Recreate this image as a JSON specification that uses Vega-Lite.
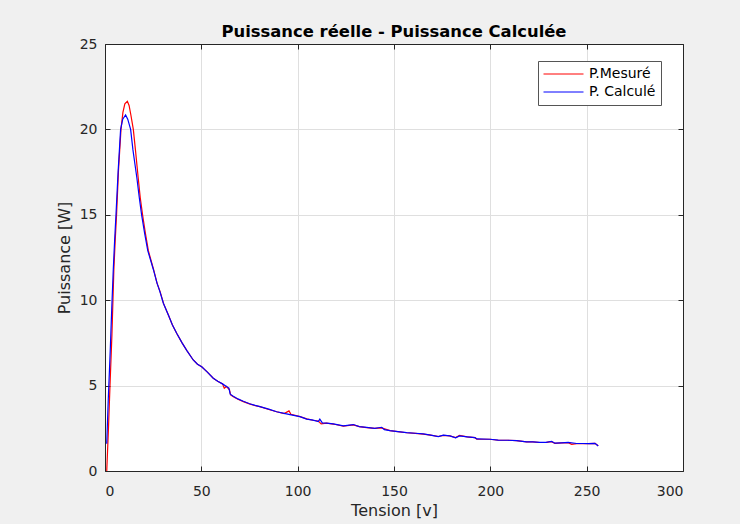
{
  "$schema": "https://vega.github.io/schema/vega-lite/v6.json",
  "width": 578,
  "height": 427,
  "autosize": {"type": "none"},
  "padding": {"left": 105, "top": 44, "right": 57, "bottom": 53},
  "background": "#f0f0f0",
  "view": {"fill": "white", "stroke": null},
  "title": {"text": "Puissance réelle - Puissance Calculée", "font": "DejaVu Sans", "fontSize": 16.4, "fontWeight": "bold", "color": "#000000", "offset": -3, "anchor": "middle"},
  "config": {
    "axis": {"labelFont": "DejaVu Sans", "titleFont": "DejaVu Sans", "labelFontSize": 14, "titleFontSize": 16, "labelColor": "#262626", "titleColor": "#262626", "titleFontWeight": "normal", "domainColor": "#262626", "tickColor": "#262626", "gridColor": "#dfdfdf", "tickSize": -5},
    "legend": {"orient": "none", "legendX": 433, "legendY": 17, "fillColor": "white", "strokeColor": "#555555", "padding": 5, "symbolType": "stroke", "symbolSize": 1600, "symbolStrokeWidth": 1, "clipHeight": 16, "labelFont": "DejaVu Sans", "labelFontSize": 14, "labelColor": "#000000", "labelOffset": 5, "rowPadding": 2}
  },
  "datasets": {
    "pts": [
      {"serie": "P.Mesuré", "tension": 0.9, "puissance": 0},
      {"serie": "P.Mesuré", "tension": 1.8, "puissance": 2.5},
      {"serie": "P.Mesuré", "tension": 2.6, "puissance": 5},
      {"serie": "P.Mesuré", "tension": 3.6, "puissance": 8},
      {"serie": "P.Mesuré", "tension": 4.6, "puissance": 11.8},
      {"serie": "P.Mesuré", "tension": 5.3, "puissance": 13.5},
      {"serie": "P.Mesuré", "tension": 6.0, "puissance": 15},
      {"serie": "P.Mesuré", "tension": 7.0, "puissance": 17.6},
      {"serie": "P.Mesuré", "tension": 8.3, "puissance": 20},
      {"serie": "P.Mesuré", "tension": 9.3, "puissance": 21},
      {"serie": "P.Mesuré", "tension": 10.3, "puissance": 21.5},
      {"serie": "P.Mesuré", "tension": 11.6, "puissance": 21.65},
      {"serie": "P.Mesuré", "tension": 12.5, "puissance": 21.4},
      {"serie": "P.Mesuré", "tension": 13.5, "puissance": 20.8},
      {"serie": "P.Mesuré", "tension": 14.7, "puissance": 20},
      {"serie": "P.Mesuré", "tension": 15.8, "puissance": 18.8},
      {"serie": "P.Mesuré", "tension": 17.2, "puissance": 17.2},
      {"serie": "P.Mesuré", "tension": 18.3, "puissance": 16},
      {"serie": "P.Mesuré", "tension": 19.5, "puissance": 15},
      {"serie": "P.Mesuré", "tension": 21, "puissance": 13.9},
      {"serie": "P.Mesuré", "tension": 22.5, "puissance": 12.9},
      {"serie": "P.Mesuré", "tension": 25.2, "puissance": 11.8},
      {"serie": "P.Mesuré", "tension": 27, "puissance": 11},
      {"serie": "P.Mesuré", "tension": 28.6, "puissance": 10.5},
      {"serie": "P.Mesuré", "tension": 30.4, "puissance": 9.8},
      {"serie": "P.Mesuré", "tension": 33, "puissance": 9.1},
      {"serie": "P.Mesuré", "tension": 35, "puissance": 8.55},
      {"serie": "P.Mesuré", "tension": 37.2, "puissance": 8.06},
      {"serie": "P.Mesuré", "tension": 40, "puissance": 7.5},
      {"serie": "P.Mesuré", "tension": 42.5, "puissance": 7.05},
      {"serie": "P.Mesuré", "tension": 45.8, "puissance": 6.5},
      {"serie": "P.Mesuré", "tension": 48, "puissance": 6.25},
      {"serie": "P.Mesuré", "tension": 50.2, "puissance": 6.1},
      {"serie": "P.Mesuré", "tension": 53, "puissance": 5.8},
      {"serie": "P.Mesuré", "tension": 56.2, "puissance": 5.43},
      {"serie": "P.Mesuré", "tension": 58.5, "puissance": 5.25},
      {"serie": "P.Mesuré", "tension": 61, "puissance": 5.1},
      {"serie": "P.Mesuré", "tension": 61.9, "puissance": 4.84},
      {"serie": "P.Mesuré", "tension": 63, "puissance": 4.95},
      {"serie": "P.Mesuré", "tension": 64.6, "puissance": 4.75},
      {"serie": "P.Mesuré", "tension": 65.2, "puissance": 4.45},
      {"serie": "P.Mesuré", "tension": 66.6, "puissance": 4.35},
      {"serie": "P.Mesuré", "tension": 69, "puissance": 4.2},
      {"serie": "P.Mesuré", "tension": 71.8, "puissance": 4.06},
      {"serie": "P.Mesuré", "tension": 75, "puissance": 3.93},
      {"serie": "P.Mesuré", "tension": 78, "puissance": 3.82},
      {"serie": "P.Mesuré", "tension": 80.4, "puissance": 3.77},
      {"serie": "P.Mesuré", "tension": 85, "puissance": 3.6},
      {"serie": "P.Mesuré", "tension": 89.1, "puissance": 3.47},
      {"serie": "P.Mesuré", "tension": 93, "puissance": 3.36},
      {"serie": "P.Mesuré", "tension": 95.5, "puissance": 3.52},
      {"serie": "P.Mesuré", "tension": 96.5, "puissance": 3.32},
      {"serie": "P.Mesuré", "tension": 101.2, "puissance": 3.18},
      {"serie": "P.Mesuré", "tension": 104.7, "puissance": 3.05},
      {"serie": "P.Mesuré", "tension": 108, "puissance": 2.97},
      {"serie": "P.Mesuré", "tension": 110.7, "puissance": 2.93},
      {"serie": "P.Mesuré", "tension": 112.2, "puissance": 2.76},
      {"serie": "P.Mesuré", "tension": 115, "puissance": 2.8},
      {"serie": "P.Mesuré", "tension": 118.5, "puissance": 2.75},
      {"serie": "P.Mesuré", "tension": 123.7, "puissance": 2.63},
      {"serie": "P.Mesuré", "tension": 128.9, "puissance": 2.7},
      {"serie": "P.Mesuré", "tension": 132, "puissance": 2.6},
      {"serie": "P.Mesuré", "tension": 135.8, "puissance": 2.54},
      {"serie": "P.Mesuré", "tension": 140, "puissance": 2.5},
      {"serie": "P.Mesuré", "tension": 143.6, "puissance": 2.52},
      {"serie": "P.Mesuré", "tension": 147.9, "puissance": 2.36},
      {"serie": "P.Mesuré", "tension": 152, "puissance": 2.3},
      {"serie": "P.Mesuré", "tension": 156.6, "puissance": 2.24},
      {"serie": "P.Mesuré", "tension": 161, "puissance": 2.2},
      {"serie": "P.Mesuré", "tension": 165.2, "puissance": 2.16},
      {"serie": "P.Mesuré", "tension": 169, "puissance": 2.1},
      {"serie": "P.Mesuré", "tension": 173, "puissance": 2.02},
      {"serie": "P.Mesuré", "tension": 175.6, "puissance": 2.09},
      {"serie": "P.Mesuré", "tension": 179, "puissance": 2.06},
      {"serie": "P.Mesuré", "tension": 182, "puissance": 1.96},
      {"serie": "P.Mesuré", "tension": 184, "puissance": 2.08},
      {"serie": "P.Mesuré", "tension": 188, "puissance": 2.0},
      {"serie": "P.Mesuré", "tension": 192, "puissance": 1.95},
      {"serie": "P.Mesuré", "tension": 193, "puissance": 1.87},
      {"serie": "P.Mesuré", "tension": 199.8, "puissance": 1.86},
      {"serie": "P.Mesuré", "tension": 204.1, "puissance": 1.8},
      {"serie": "P.Mesuré", "tension": 209, "puissance": 1.8},
      {"serie": "P.Mesuré", "tension": 213.6, "puissance": 1.78},
      {"serie": "P.Mesuré", "tension": 218.8, "puissance": 1.7},
      {"serie": "P.Mesuré", "tension": 222, "puissance": 1.7},
      {"serie": "P.Mesuré", "tension": 225.7, "puissance": 1.67},
      {"serie": "P.Mesuré", "tension": 229, "puissance": 1.68},
      {"serie": "P.Mesuré", "tension": 231.8, "puissance": 1.72},
      {"serie": "P.Mesuré", "tension": 233.5, "puissance": 1.62},
      {"serie": "P.Mesuré", "tension": 237, "puissance": 1.65},
      {"serie": "P.Mesuré", "tension": 240.4, "puissance": 1.66},
      {"serie": "P.Mesuré", "tension": 242.2, "puissance": 1.56},
      {"serie": "P.Mesuré", "tension": 244.8, "puissance": 1.6},
      {"serie": "P.Mesuré", "tension": 248, "puissance": 1.6},
      {"serie": "P.Mesuré", "tension": 251, "puissance": 1.6},
      {"serie": "P.Mesuré", "tension": 254.3, "puissance": 1.62},
      {"serie": "P.Mesuré", "tension": 256, "puissance": 1.48},
      {"serie": "P. Calculé", "tension": 0.9, "puissance": 1.6},
      {"serie": "P. Calculé", "tension": 1.7, "puissance": 4.2},
      {"serie": "P. Calculé", "tension": 2.7, "puissance": 7},
      {"serie": "P. Calculé", "tension": 3.5, "puissance": 9.5},
      {"serie": "P. Calculé", "tension": 4.3, "puissance": 11.8},
      {"serie": "P. Calculé", "tension": 5.0, "puissance": 13.5},
      {"serie": "P. Calculé", "tension": 5.7, "puissance": 15},
      {"serie": "P. Calculé", "tension": 6.8, "puissance": 17.5},
      {"serie": "P. Calculé", "tension": 8.1, "puissance": 20},
      {"serie": "P. Calculé", "tension": 9.2, "puissance": 20.6},
      {"serie": "P. Calculé", "tension": 10.7, "puissance": 20.85},
      {"serie": "P. Calculé", "tension": 11.8, "puissance": 20.6},
      {"serie": "P. Calculé", "tension": 13.3, "puissance": 20},
      {"serie": "P. Calculé", "tension": 14.5, "puissance": 18.8},
      {"serie": "P. Calculé", "tension": 16.5, "puissance": 17.2},
      {"serie": "P. Calculé", "tension": 17.8, "puissance": 16},
      {"serie": "P. Calculé", "tension": 19.0, "puissance": 15},
      {"serie": "P. Calculé", "tension": 20.6, "puissance": 13.9},
      {"serie": "P. Calculé", "tension": 22.2, "puissance": 12.9},
      {"serie": "P. Calculé", "tension": 25.1, "puissance": 11.8},
      {"serie": "P. Calculé", "tension": 27, "puissance": 11},
      {"serie": "P. Calculé", "tension": 28.5, "puissance": 10.5},
      {"serie": "P. Calculé", "tension": 30.3, "puissance": 9.82},
      {"serie": "P. Calculé", "tension": 33, "puissance": 9.1},
      {"serie": "P. Calculé", "tension": 35, "puissance": 8.55},
      {"serie": "P. Calculé", "tension": 37.2, "puissance": 8.06},
      {"serie": "P. Calculé", "tension": 40, "puissance": 7.5},
      {"serie": "P. Calculé", "tension": 42.5, "puissance": 7.05},
      {"serie": "P. Calculé", "tension": 45.8, "puissance": 6.5},
      {"serie": "P. Calculé", "tension": 48, "puissance": 6.25},
      {"serie": "P. Calculé", "tension": 50.2, "puissance": 6.1},
      {"serie": "P. Calculé", "tension": 53, "puissance": 5.8},
      {"serie": "P. Calculé", "tension": 56.2, "puissance": 5.43},
      {"serie": "P. Calculé", "tension": 58.5, "puissance": 5.25},
      {"serie": "P. Calculé", "tension": 61, "puissance": 5.1},
      {"serie": "P. Calculé", "tension": 63.2, "puissance": 4.94},
      {"serie": "P. Calculé", "tension": 64.3, "puissance": 4.85},
      {"serie": "P. Calculé", "tension": 65.0, "puissance": 4.5},
      {"serie": "P. Calculé", "tension": 66.6, "puissance": 4.38},
      {"serie": "P. Calculé", "tension": 69, "puissance": 4.22},
      {"serie": "P. Calculé", "tension": 71.8, "puissance": 4.08},
      {"serie": "P. Calculé", "tension": 75, "puissance": 3.94},
      {"serie": "P. Calculé", "tension": 78, "puissance": 3.84},
      {"serie": "P. Calculé", "tension": 80.4, "puissance": 3.77},
      {"serie": "P. Calculé", "tension": 85, "puissance": 3.62},
      {"serie": "P. Calculé", "tension": 89.1, "puissance": 3.47},
      {"serie": "P. Calculé", "tension": 93, "puissance": 3.37},
      {"serie": "P. Calculé", "tension": 96, "puissance": 3.3},
      {"serie": "P. Calculé", "tension": 101.2, "puissance": 3.18},
      {"serie": "P. Calculé", "tension": 104.7, "puissance": 3.04},
      {"serie": "P. Calculé", "tension": 108, "puissance": 2.98},
      {"serie": "P. Calculé", "tension": 110.7, "puissance": 2.9},
      {"serie": "P. Calculé", "tension": 111.5, "puissance": 3.04},
      {"serie": "P. Calculé", "tension": 112.8, "puissance": 2.82},
      {"serie": "P. Calculé", "tension": 115, "puissance": 2.8},
      {"serie": "P. Calculé", "tension": 118.5, "puissance": 2.76},
      {"serie": "P. Calculé", "tension": 123.7, "puissance": 2.64},
      {"serie": "P. Calculé", "tension": 128.9, "puissance": 2.72},
      {"serie": "P. Calculé", "tension": 132, "puissance": 2.6},
      {"serie": "P. Calculé", "tension": 135.8, "puissance": 2.55},
      {"serie": "P. Calculé", "tension": 140, "puissance": 2.5},
      {"serie": "P. Calculé", "tension": 143.6, "puissance": 2.56},
      {"serie": "P. Calculé", "tension": 145, "puissance": 2.42},
      {"serie": "P. Calculé", "tension": 147.9, "puissance": 2.36},
      {"serie": "P. Calculé", "tension": 152, "puissance": 2.31},
      {"serie": "P. Calculé", "tension": 156.6, "puissance": 2.25},
      {"serie": "P. Calculé", "tension": 161, "puissance": 2.21},
      {"serie": "P. Calculé", "tension": 165.2, "puissance": 2.17},
      {"serie": "P. Calculé", "tension": 169, "puissance": 2.1},
      {"serie": "P. Calculé", "tension": 173, "puissance": 2.01},
      {"serie": "P. Calculé", "tension": 175.6, "puissance": 2.1},
      {"serie": "P. Calculé", "tension": 179, "puissance": 2.06},
      {"serie": "P. Calculé", "tension": 182, "puissance": 1.94},
      {"serie": "P. Calculé", "tension": 184, "puissance": 2.05},
      {"serie": "P. Calculé", "tension": 188, "puissance": 2.0},
      {"serie": "P. Calculé", "tension": 192, "puissance": 1.95},
      {"serie": "P. Calculé", "tension": 193, "puissance": 1.88},
      {"serie": "P. Calculé", "tension": 199.8, "puissance": 1.86},
      {"serie": "P. Calculé", "tension": 204.1, "puissance": 1.81},
      {"serie": "P. Calculé", "tension": 209, "puissance": 1.8},
      {"serie": "P. Calculé", "tension": 213.6, "puissance": 1.78},
      {"serie": "P. Calculé", "tension": 218.8, "puissance": 1.71},
      {"serie": "P. Calculé", "tension": 222, "puissance": 1.7},
      {"serie": "P. Calculé", "tension": 225.7, "puissance": 1.68},
      {"serie": "P. Calculé", "tension": 229, "puissance": 1.68},
      {"serie": "P. Calculé", "tension": 231.8, "puissance": 1.73},
      {"serie": "P. Calculé", "tension": 233.5, "puissance": 1.63},
      {"serie": "P. Calculé", "tension": 237, "puissance": 1.65},
      {"serie": "P. Calculé", "tension": 240.4, "puissance": 1.67},
      {"serie": "P. Calculé", "tension": 244.8, "puissance": 1.61},
      {"serie": "P. Calculé", "tension": 248, "puissance": 1.61},
      {"serie": "P. Calculé", "tension": 251, "puissance": 1.6},
      {"serie": "P. Calculé", "tension": 254.3, "puissance": 1.62},
      {"serie": "P. Calculé", "tension": 256, "puissance": 1.46}
    ]
  },
  "data": {"name": "pts"},
  "encoding": {
    "color": {"field": "serie", "type": "nominal", "scale": {"domain": ["P.Mesuré", "P. Calculé"], "range": ["#ff0000", "#0000ff"]}, "legend": {"title": null}}
  },
  "layer": [
    {
      "transform": [{"filter": "datum.serie === 'P.Mesuré'"}],
      "mark": {"type": "line", "strokeWidth": 1.2},
      "encoding": {
        "x": {"field": "tension", "type": "quantitative", "scale": {"domain": [0, 300], "nice": false}, "axis": {"orient": "bottom", "title": "Tension [v]", "values": [0, 50, 100, 150, 200, 250, 300], "labelPadding": 18, "titlePadding": 4, "grid": true}},
        "y": {"field": "puissance", "type": "quantitative", "scale": {"domain": [0, 25], "nice": false}, "axis": {"orient": "left", "title": "Puissance [W]", "values": [0, 5, 10, 15, 20, 25], "labelPadding": 13, "titlePadding": 7, "grid": true}}
      }
    },
    {
      "transform": [{"filter": "datum.serie === 'P. Calculé'"}],
      "mark": {"type": "line", "strokeWidth": 1.2},
      "encoding": {
        "x": {"field": "tension", "type": "quantitative", "axis": {"orient": "top", "title": null, "labels": false, "values": [0, 50, 100, 150, 200, 250, 300], "grid": false}},
        "y": {"field": "puissance", "type": "quantitative", "axis": {"orient": "right", "title": null, "labels": false, "values": [0, 5, 10, 15, 20, 25], "grid": false}}
      }
    }
  ],
  "resolve": {"axis": {"x": "independent", "y": "independent"}}
}
